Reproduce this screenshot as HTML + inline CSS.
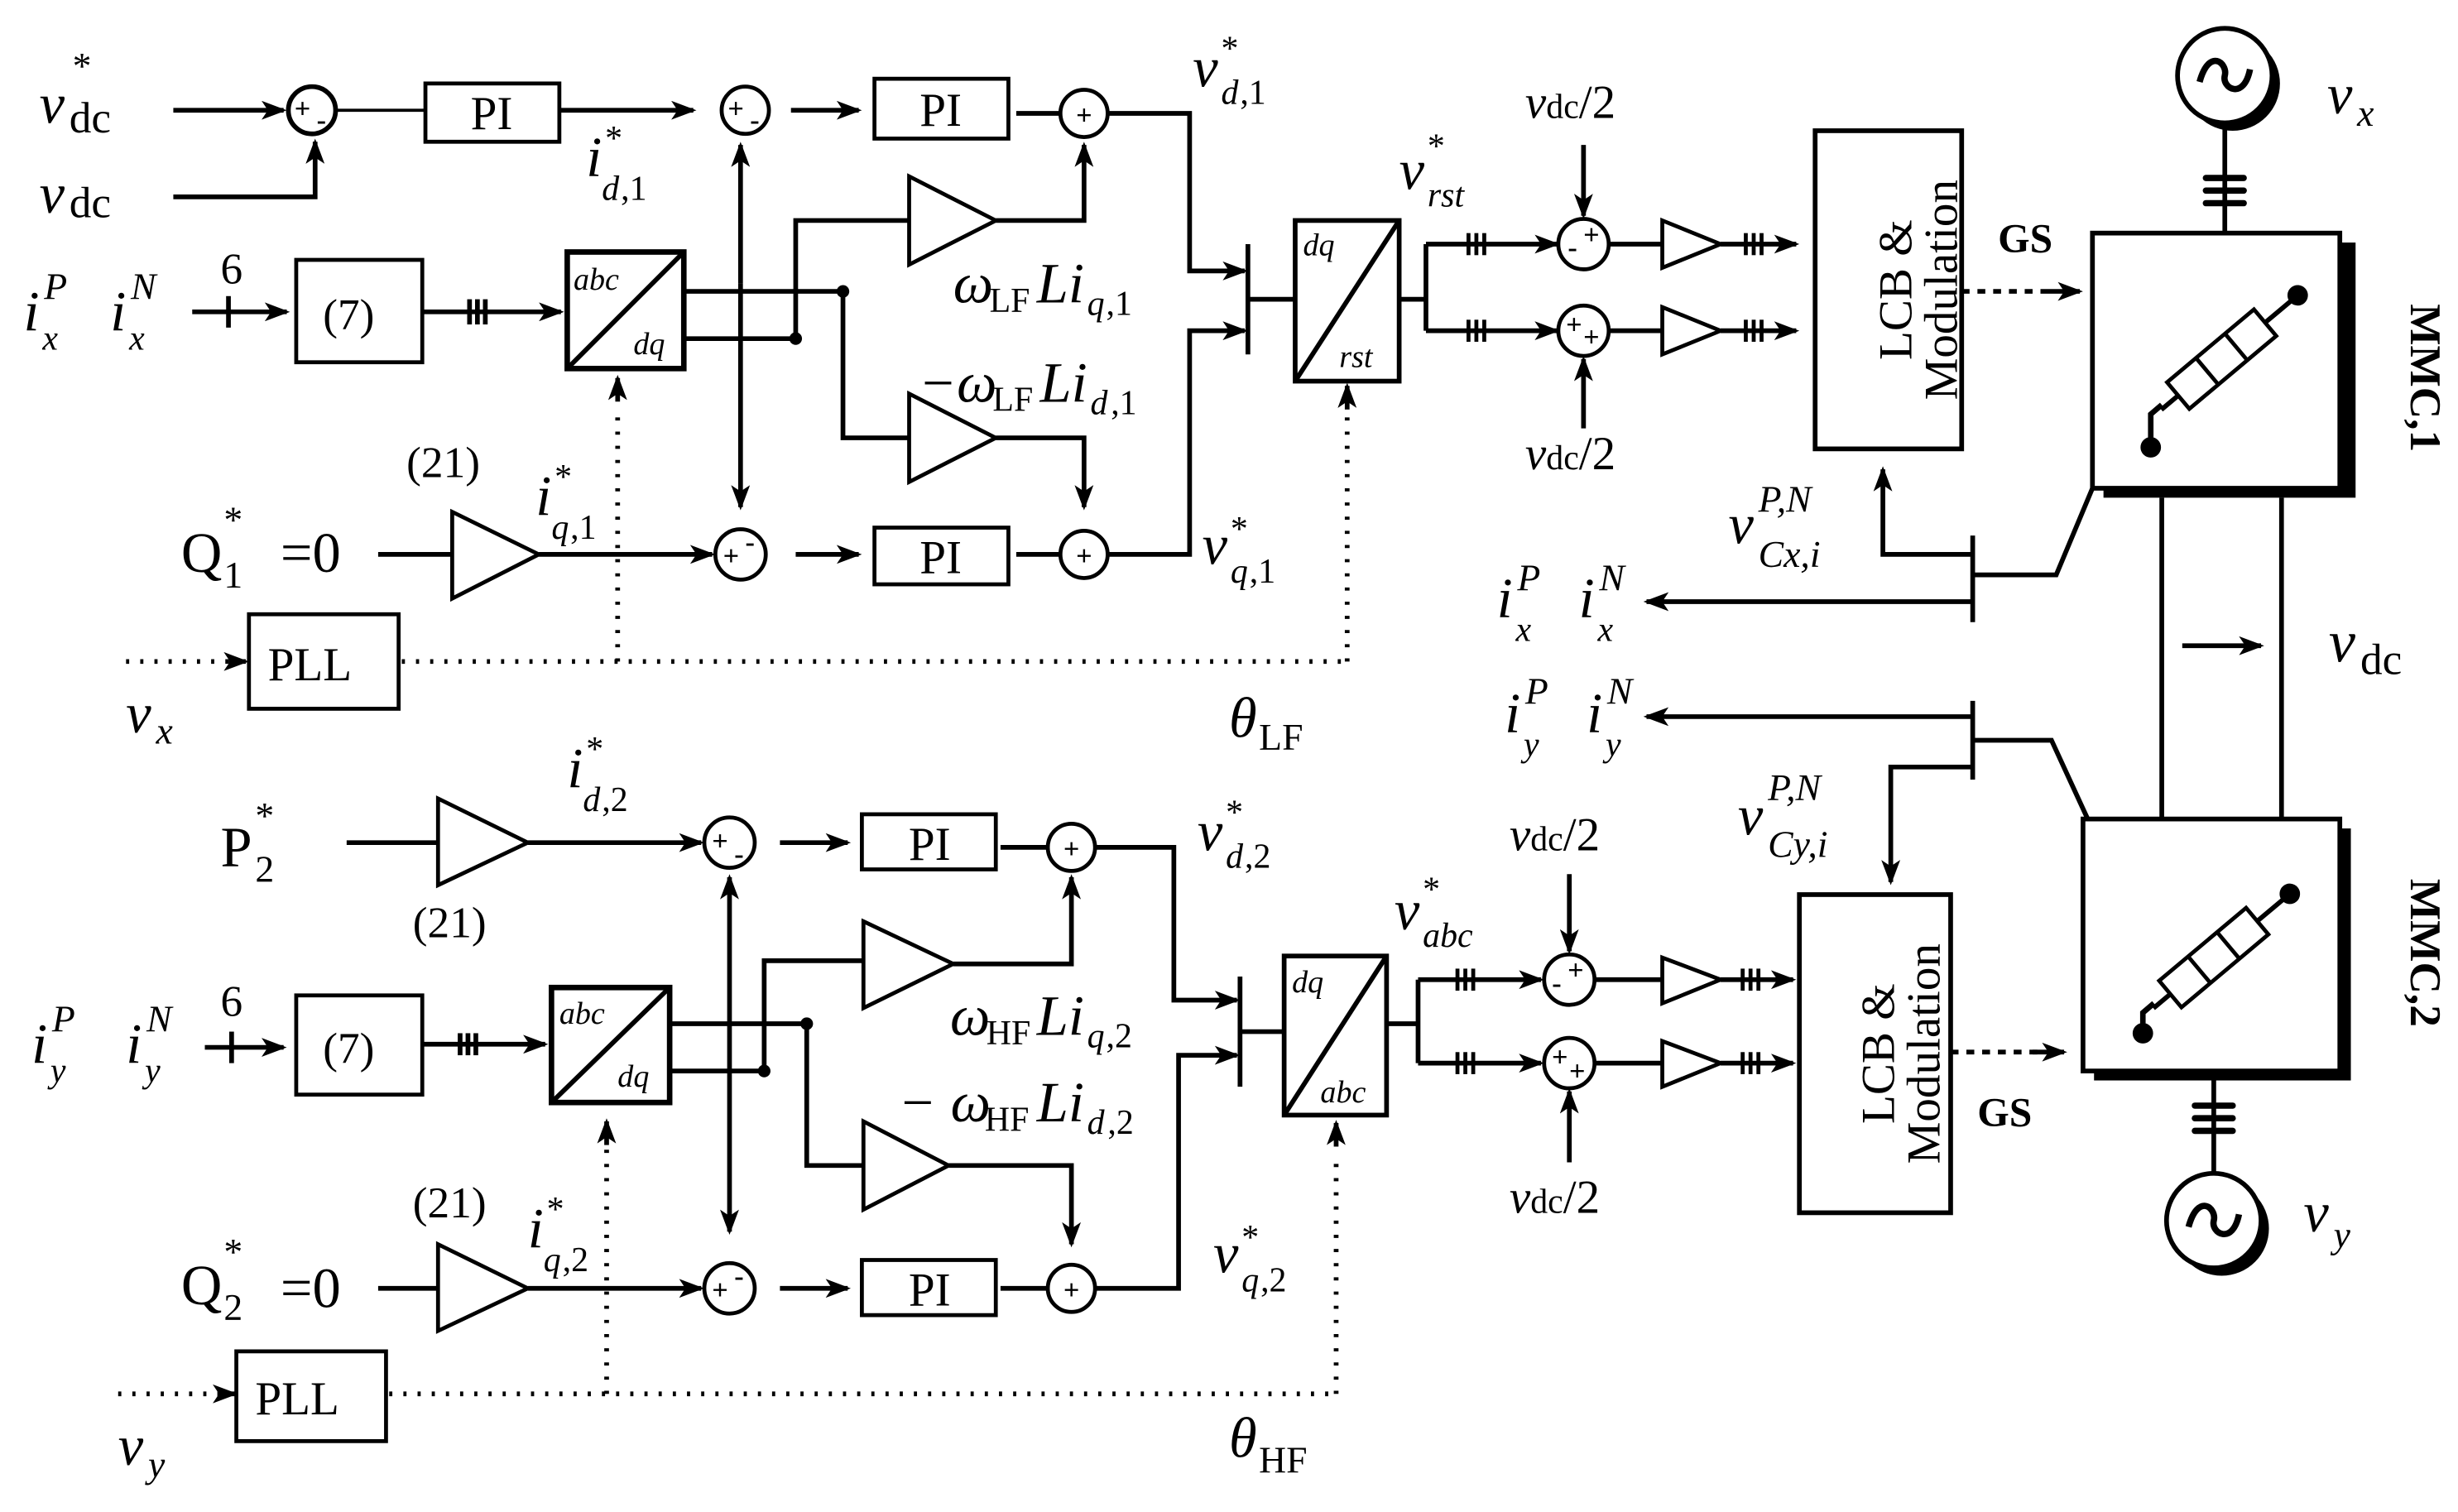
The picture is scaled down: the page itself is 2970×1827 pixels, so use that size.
<!DOCTYPE html>
<html><head><meta charset="utf-8"><style>
html,body{margin:0;padding:0;background:#fff}
svg{display:block}
text{font-family:"Liberation Serif",serif;fill:#000}
.i{font-style:italic}
</style></head><body>
<svg width="2970" height="1827" viewBox="0 0 1560 960" preserveAspectRatio="none" xmlns="http://www.w3.org/2000/svg">
<defs>
<marker id="a" markerWidth="16" markerHeight="12" refX="14" refY="6" orient="auto" markerUnits="userSpaceOnUse"><path d="M0,0 L16,6 L0,12 L4,6 z" fill="#000"/></marker>
</defs>
<g fill="none" stroke="#000" stroke-width="3">
<line x1="110" y1="70" x2="180" y2="70" marker-end="url(#a)"/>
<circle cx="198" cy="70" r="15"/>
<polyline points="110,125 200,125 200,90" marker-end="url(#a)"/>
<line x1="213" y1="70" x2="270" y2="70" stroke-width="2"/>
<rect x="270" y="53" width="85" height="37" stroke-width="2.5"/>
<line x1="355" y1="70" x2="440" y2="70" marker-end="url(#a)"/>
<circle cx="473" cy="70" r="15" stroke-width="2.5"/>
<line x1="502" y1="70" x2="545" y2="70" marker-end="url(#a)"/>
<rect x="555" y="50" width="85" height="38" stroke-width="2.5"/>
<line x1="645" y1="72" x2="673" y2="72"/>
<circle cx="688" cy="72" r="15" stroke-width="2.5"/>
<polyline points="703,72 755,72 755,172 790,172" marker-end="url(#a)"/>
<line x1="470" y1="180" x2="470" y2="92" marker-end="url(#a)"/>
<line x1="470" y1="180" x2="470" y2="322" marker-end="url(#a)"/>
<line x1="122" y1="198" x2="182" y2="198" marker-end="url(#a)"/>
<line x1="145" y1="188" x2="145" y2="208"/>
<rect x="188" y="165" width="80" height="65" stroke-width="2.5"/>
<line x1="268" y1="198" x2="356" y2="198" marker-end="url(#a)"/>
<line x1="298" y1="190" x2="298" y2="206"/><line x1="303" y1="190" x2="303" y2="206"/><line x1="308" y1="190" x2="308" y2="206"/>
<rect x="360" y="160" width="74" height="74" stroke-width="3.5"/>
<line x1="360" y1="234" x2="434" y2="160" stroke-width="3"/>
<line x1="434" y1="185" x2="535" y2="185"/>
<line x1="434" y1="215" x2="505" y2="215"/>
<polyline points="505,215 505,140 577,140"/>
<polygon points="577,112 632,140 577,168" stroke-width="2.5"/>
<polyline points="632,140 688,140 688,92" marker-end="url(#a)"/>
<polyline points="535,185 535,278 577,278"/>
<polygon points="577,250 632,278 577,306" stroke-width="2.5"/>
<polyline points="632,278 688,278 688,322" marker-end="url(#a)"/>
<line x1="240" y1="352" x2="287" y2="352"/>
<polygon points="287,325 342,352 287,380" stroke-width="2.5"/>
<line x1="342" y1="352" x2="452" y2="352" marker-end="url(#a)"/>
<circle cx="470" cy="352" r="16" stroke-width="2.5"/>
<line x1="505" y1="352" x2="545" y2="352" marker-end="url(#a)"/>
<rect x="555" y="335" width="85" height="36" stroke-width="2.5"/>
<line x1="645" y1="352" x2="673" y2="352"/>
<circle cx="688" cy="352" r="15" stroke-width="2.5"/>
<polyline points="703,352 755,352 755,210 790,210" marker-end="url(#a)"/>
<rect x="158" y="390" width="95" height="60" stroke-width="2.5"/>
<g stroke-dasharray="2,7" stroke-width="3">
<line x1="80" y1="420" x2="150" y2="420"/>
<line x1="255" y1="420" x2="855" y2="420"/>
<line x1="392" y1="420" x2="392" y2="258"/>
<line x1="855" y1="420" x2="855" y2="262"/>
</g>
<line x1="145" y1="420" x2="156" y2="420" marker-end="url(#a)"/>
<line x1="392" y1="255" x2="392" y2="240" marker-end="url(#a)"/>
<line x1="855" y1="260" x2="855" y2="245" marker-end="url(#a)"/>
<line x1="792" y1="155" x2="792" y2="225"/>
<line x1="792" y1="190" x2="822" y2="190"/>
<rect x="822" y="140" width="66" height="102" stroke-width="3"/>
<line x1="822" y1="242" x2="888" y2="140"/>
<line x1="888" y1="190" x2="905" y2="190"/>
<line x1="905" y1="155" x2="905" y2="210"/>
<line x1="905" y1="155" x2="988" y2="155" marker-end="url(#a)"/>
<line x1="905" y1="210" x2="988" y2="210" marker-end="url(#a)"/>
<g stroke-width="2.5"><line x1="932" y1="148" x2="932" y2="162"/><line x1="937" y1="148" x2="937" y2="162"/><line x1="942" y1="148" x2="942" y2="162"/>
<line x1="932" y1="203" x2="932" y2="217"/><line x1="937" y1="203" x2="937" y2="217"/><line x1="942" y1="203" x2="942" y2="217"/></g>
<circle cx="1005" cy="155" r="16" stroke-width="2.5"/>
<circle cx="1005" cy="210" r="16" stroke-width="2.5"/>
<line x1="1005" y1="92" x2="1005" y2="137" marker-end="url(#a)"/>
<line x1="1005" y1="272" x2="1005" y2="228" marker-end="url(#a)"/>
<line x1="1021" y1="155" x2="1055" y2="155"/>
<line x1="1021" y1="210" x2="1055" y2="210"/>
<polygon points="1055,140 1092,155 1055,170" stroke-width="2.5"/>
<polygon points="1055,195 1092,210 1055,225" stroke-width="2.5"/>
<line x1="1092" y1="155" x2="1140" y2="155" marker-end="url(#a)"/>
<line x1="1092" y1="210" x2="1140" y2="210" marker-end="url(#a)"/>
<g stroke-width="2.5"><line x1="1108" y1="148" x2="1108" y2="162"/><line x1="1113" y1="148" x2="1113" y2="162"/><line x1="1118" y1="148" x2="1118" y2="162"/>
<line x1="1108" y1="203" x2="1108" y2="217"/><line x1="1113" y1="203" x2="1113" y2="217"/><line x1="1118" y1="203" x2="1118" y2="217"/></g>
<rect x="1152" y="83" width="93" height="202" stroke-width="3"/>
<line x1="1245" y1="185" x2="1305" y2="185" stroke-dasharray="5,5"/>
<line x1="1300" y1="185" x2="1320" y2="185" marker-end="url(#a)"/>
<rect x="1335" y="154" width="160" height="162" fill="#000" stroke="none"/>
<rect x="1328" y="148" width="157" height="162" fill="#fff" stroke-width="3"/>
<circle cx="1417" cy="53" r="30" fill="#000" stroke="none"/>
<circle cx="1412" cy="48" r="30" fill="#fff" stroke-width="3"/>
<path d="M1396,52 C1402,30 1414,40 1412,48 C1410,56 1424,64 1428,44" stroke-width="4"/>
<line x1="1412" y1="78" x2="1412" y2="148"/>
<g stroke-width="4" stroke-linecap="round"><line x1="1400" y1="113" x2="1424" y2="113"/><line x1="1400" y1="121" x2="1424" y2="121"/><line x1="1400" y1="129" x2="1424" y2="129"/></g>
<g transform="translate(1410,228) rotate(-40)">
<rect x="-36" y="-11" width="72" height="22" stroke-width="2.5"/>
<line x1="-12" y1="-11" x2="-12" y2="11" stroke-width="2.5"/><line x1="12" y1="-11" x2="12" y2="11" stroke-width="2.5"/>
<line x1="36" y1="0" x2="62" y2="0"/><line x1="-36" y1="0" x2="-50" y2="0"/>
<circle cx="63" cy="0" r="5" fill="#000"/>
</g>
<polyline points="1372,257 1365,263 1365,283" stroke-width="3.5"/>
<circle cx="1365" cy="284" r="5" fill="#000"/>
<line x1="1372" y1="316" x2="1372" y2="520"/>
<line x1="1448" y1="316" x2="1448" y2="520"/>
<line x1="1385" y1="410" x2="1435" y2="410" marker-end="url(#a)"/>
<polyline points="1328,310 1305,365 1252,365"/>
<line x1="1252" y1="340" x2="1252" y2="395"/>
<line x1="1252" y1="382" x2="1045" y2="382" marker-end="url(#a)"/>
<polyline points="1252,352 1195,352 1195,298" marker-end="url(#a)"/>
<polyline points="1325,520 1302,470 1252,470"/>
<line x1="1252" y1="445" x2="1252" y2="495"/>
<line x1="1252" y1="455" x2="1045" y2="455" marker-end="url(#a)"/>
<polyline points="1252,487 1200,487 1200,560" marker-end="url(#a)"/>
<rect x="1329" y="526" width="163" height="160" fill="#000" stroke="none"/>
<rect x="1322" y="520" width="163" height="160" fill="#fff" stroke-width="3"/>
<g transform="translate(1405,608) rotate(-40)">
<rect x="-36" y="-11" width="72" height="22" stroke-width="2.5"/>
<line x1="-12" y1="-11" x2="-12" y2="11" stroke-width="2.5"/><line x1="12" y1="-11" x2="12" y2="11" stroke-width="2.5"/>
<line x1="36" y1="0" x2="62" y2="0"/><line x1="-36" y1="0" x2="-50" y2="0"/>
<circle cx="63" cy="0" r="5" fill="#000"/>
</g>
<polyline points="1367,637 1360,643 1360,655" stroke-width="3.5"/>
<circle cx="1360" cy="656" r="5" fill="#000"/>
<line x1="1405" y1="680" x2="1405" y2="745"/>
<g stroke-width="4" stroke-linecap="round"><line x1="1393" y1="702" x2="1417" y2="702"/><line x1="1393" y1="710" x2="1417" y2="710"/><line x1="1393" y1="718" x2="1417" y2="718"/></g>
<circle cx="1410" cy="780" r="30" fill="#000" stroke="none"/>
<circle cx="1405" cy="775" r="30" fill="#fff" stroke-width="3"/>
<path d="M1389,779 C1395,757 1407,767 1405,775 C1403,783 1417,791 1421,771" stroke-width="4"/>
<rect x="1142" y="568" width="96" height="202" stroke-width="3"/>
<line x1="1238" y1="668" x2="1295" y2="668" stroke-dasharray="5,5"/>
<line x1="1290" y1="668" x2="1310" y2="668" marker-end="url(#a)"/>

<line x1="220" y1="535" x2="278" y2="535"/>
<polygon points="278,507 335,535 278,562" stroke-width="2.5"/>
<line x1="335" y1="535" x2="445" y2="535" marker-end="url(#a)"/>
<circle cx="463" cy="535" r="16" stroke-width="2.5"/>
<line x1="495" y1="535" x2="538" y2="535" marker-end="url(#a)"/>
<rect x="547" y="517" width="85" height="35" stroke-width="2.5"/>
<line x1="635" y1="538" x2="665" y2="538"/>
<circle cx="680" cy="538" r="15" stroke-width="2.5"/>
<polyline points="695,538 745,538 745,635 785,635" marker-end="url(#a)"/>
<line x1="463" y1="650" x2="463" y2="557" marker-end="url(#a)"/>
<line x1="463" y1="650" x2="463" y2="782" marker-end="url(#a)"/>
<line x1="130" y1="665" x2="180" y2="665" marker-end="url(#a)"/>
<line x1="147" y1="655" x2="147" y2="675"/>
<rect x="188" y="632" width="80" height="63" stroke-width="2.5"/>
<line x1="268" y1="663" x2="346" y2="663" marker-end="url(#a)"/>
<line x1="292" y1="656" x2="292" y2="670"/><line x1="297" y1="656" x2="297" y2="670"/><line x1="302" y1="656" x2="302" y2="670"/>
<rect x="350" y="627" width="75" height="73" stroke-width="3.5"/>
<line x1="350" y1="700" x2="425" y2="627"/>
<line x1="425" y1="650" x2="512" y2="650"/>
<line x1="425" y1="680" x2="485" y2="680"/>
<polyline points="485,680 485,610 548,610"/>
<polygon points="548,585 605,612 548,640" stroke-width="2.5"/>
<polyline points="605,612 680,612 680,557" marker-end="url(#a)"/>
<polyline points="512,650 512,740 548,740"/>
<polygon points="548,712 602,740 548,768" stroke-width="2.5"/>
<polyline points="602,740 680,740 680,790" marker-end="url(#a)"/>
<line x1="240" y1="818" x2="278" y2="818"/>
<polygon points="278,790 335,818 278,845" stroke-width="2.5"/>
<line x1="335" y1="818" x2="445" y2="818" marker-end="url(#a)"/>
<circle cx="463" cy="818" r="16" stroke-width="2.5"/>
<line x1="495" y1="818" x2="538" y2="818" marker-end="url(#a)"/>
<rect x="547" y="800" width="85" height="35" stroke-width="2.5"/>
<line x1="635" y1="818" x2="665" y2="818"/>
<circle cx="680" cy="818" r="15" stroke-width="2.5"/>
<polyline points="695,818 748,818 748,670 785,670" marker-end="url(#a)"/>
<rect x="150" y="858" width="95" height="57" stroke-width="2.5"/>
<g stroke-dasharray="2,7" stroke-width="3">
<line x1="75" y1="885" x2="142" y2="885"/>
<line x1="247" y1="885" x2="848" y2="885"/>
<line x1="385" y1="885" x2="385" y2="730"/>
<line x1="848" y1="885" x2="848" y2="732"/>
</g>
<line x1="138" y1="885" x2="149" y2="885" marker-end="url(#a)"/>
<line x1="385" y1="727" x2="385" y2="712" marker-end="url(#a)"/>
<line x1="848" y1="728" x2="848" y2="713" marker-end="url(#a)"/>
<line x1="787" y1="620" x2="787" y2="690"/>
<line x1="787" y1="655" x2="815" y2="655"/>
<rect x="815" y="607" width="65" height="101" stroke-width="3"/>
<line x1="815" y1="708" x2="880" y2="607"/>
<line x1="880" y1="650" x2="900" y2="650"/>
<line x1="900" y1="622" x2="900" y2="675"/>
<line x1="900" y1="622" x2="978" y2="622" marker-end="url(#a)"/>
<line x1="900" y1="675" x2="978" y2="675" marker-end="url(#a)"/>
<g stroke-width="2.5"><line x1="925" y1="615" x2="925" y2="629"/><line x1="930" y1="615" x2="930" y2="629"/><line x1="935" y1="615" x2="935" y2="629"/>
<line x1="925" y1="668" x2="925" y2="682"/><line x1="930" y1="668" x2="930" y2="682"/><line x1="935" y1="668" x2="935" y2="682"/></g>
<circle cx="996" cy="622" r="16" stroke-width="2.5"/>
<circle cx="996" cy="675" r="16" stroke-width="2.5"/>
<line x1="996" y1="555" x2="996" y2="604" marker-end="url(#a)"/>
<line x1="996" y1="738" x2="996" y2="693" marker-end="url(#a)"/>
<line x1="1012" y1="622" x2="1055" y2="622"/>
<line x1="1012" y1="675" x2="1055" y2="675"/>
<polygon points="1055,608 1092,622 1055,637" stroke-width="2.5"/>
<polygon points="1055,661 1092,675 1055,690" stroke-width="2.5"/>
<line x1="1092" y1="622" x2="1138" y2="622" marker-end="url(#a)"/>
<line x1="1092" y1="675" x2="1138" y2="675" marker-end="url(#a)"/>
<g stroke-width="2.5"><line x1="1106" y1="615" x2="1106" y2="629"/><line x1="1111" y1="615" x2="1111" y2="629"/><line x1="1116" y1="615" x2="1116" y2="629"/>
<line x1="1106" y1="668" x2="1106" y2="682"/><line x1="1111" y1="668" x2="1111" y2="682"/><line x1="1116" y1="668" x2="1116" y2="682"/></g>
</g>
<g fill="#000">
<circle cx="535" cy="185" r="4"/><circle cx="505" cy="215" r="4"/>
<circle cx="512" cy="650" r="4"/><circle cx="485" cy="680" r="4"/>
</g>
<g font-family="Liberation Sans" font-weight="bold" font-size="18" text-anchor="middle">
<text x="192" y="75">+</text><text x="204" y="82">-</text>
<text x="467" y="75">+</text><text x="479" y="82">-</text>
<text x="688" y="79">+</text>
<text x="464" y="359">+</text><text x="476" y="350">-</text>
<text x="688" y="359">+</text>
<text x="1010" y="155">+</text><text x="998" y="163">-</text>
<text x="999" y="212">+</text><text x="1010" y="220">+</text>
<text x="457" y="540">+</text><text x="469" y="548">-</text>
<text x="680" y="545">+</text>
<text x="457" y="825">+</text><text x="469" y="816">-</text>
<text x="680" y="825">+</text>
<text x="1000" y="622">+</text><text x="988" y="630">-</text>
<text x="990" y="677">+</text><text x="1001" y="686">+</text>
</g>
<g font-size="36">
<text x="25" y="78" class="i">v</text><text x="44" y="84" font-size="28">dc</text><text x="46" y="50" font-size="24">*</text>
<text x="25" y="135" class="i">v</text><text x="44" y="138" font-size="28">dc</text>
<g font-size="30" text-anchor="middle"><text x="312" y="82">PI</text><text x="597" y="80">PI</text><text x="597" y="364">PI</text><text x="590" y="546">PI</text><text x="590" y="829">PI</text></g>
<text x="372" y="112" class="i">i</text><text x="384" y="95" font-size="22">*</text><text x="382" y="127" font-size="22" class="i">d</text><text x="394" y="127" font-size="22">,1</text>
<text x="757" y="55" class="i">v</text><text x="775" y="38" font-size="22">*</text><text x="775" y="66" font-size="22" class="i">d</text><text x="787" y="66" font-size="22">,1</text>
<text x="15" y="210" class="i">i</text><text x="28" y="190" font-size="24" class="i">P</text><text x="27" y="222" font-size="22" class="i">x</text>
<text x="70" y="210" class="i">i</text><text x="83" y="190" font-size="24" class="i">N</text><text x="82" y="222" font-size="22" class="i">x</text>
<text x="140" y="180" font-size="28">6</text>
<text x="205" y="209" font-size="28">(7)</text>
<text x="364" y="184" font-size="20" class="i">abc</text><text x="402" y="225" font-size="20" class="i">dq</text>
<text x="605" y="192" class="i">ω</text><text x="628" y="198" font-size="22">LF</text><text x="658" y="192" class="i">Li</text><text x="690" y="200" font-size="22" class="i">q</text><text x="702" y="200" font-size="22">,1</text>
<text x="583" y="255" class="i">−ω</text><text x="630" y="261" font-size="22">LF</text><text x="660" y="255" class="i">Li</text><text x="692" y="263" font-size="22" class="i">d</text><text x="705" y="263" font-size="22">,1</text>
<text x="258" y="303" font-size="28">(21)</text>
<text x="340" y="327" class="i">i</text><text x="352" y="310" font-size="22">*</text><text x="350" y="342" font-size="22" class="i">q</text><text x="362" y="342" font-size="22">,1</text>
<text x="115" y="363">Q</text><text x="142" y="338" font-size="24">*</text><text x="142" y="373" font-size="24">1</text><text x="178" y="363">=0</text>
<text x="763" y="358" class="i">v</text><text x="781" y="343" font-size="22">*</text><text x="781" y="370" font-size="22" class="i">q</text><text x="793" y="370" font-size="22">,1</text>
<text x="170" y="432" font-size="30">PLL</text>
<text x="80" y="465" class="i">v</text><text x="99" y="472" font-size="24" class="i">x</text>
<text x="780" y="468" class="i">θ</text><text x="799" y="476" font-size="24">LF</text>
<text x="827" y="162" font-size="20" class="i">dq</text><text x="850" y="233" font-size="20" class="i">rst</text>
<text x="888" y="120" class="i">v</text><text x="906" y="100" font-size="22">*</text><text x="906" y="131" font-size="22" class="i">rst</text>
<text x="968" y="75" font-size="30"><tspan font-style="italic">v</tspan><tspan font-size="22">dc</tspan>/2</text>
<text x="968" y="298" font-size="30"><tspan font-style="italic">v</tspan><tspan font-size="22">dc</tspan>/2</text>
<text transform="translate(1213,184) rotate(-90)" text-anchor="middle" font-size="30">LCB &amp;</text>
<text transform="translate(1242,184) rotate(-90)" text-anchor="middle" font-size="30">Modulation</text>
<text x="1268" y="160" font-size="26" font-weight="bold">GS</text>
<text transform="translate(1530,240) rotate(90)" text-anchor="middle" font-size="28" font-weight="bold">MMC,1</text>
<text x="1477" y="72" class="i">v</text><text x="1496" y="80" font-size="24" class="i">x</text>
<text x="1097" y="345" class="i">v</text><text x="1116" y="325" font-size="24" class="i">P,N</text><text x="1116" y="360" font-size="24" class="i">Cx,i</text>
<text x="950" y="392" class="i">i</text><text x="963" y="375" font-size="24" class="i">P</text><text x="962" y="407" font-size="22" class="i">x</text>
<text x="1002" y="392" class="i">i</text><text x="1015" y="375" font-size="24" class="i">N</text><text x="1014" y="407" font-size="22" class="i">x</text>
<text x="1478" y="420" class="i" font-size="38">v</text><text x="1498" y="428" font-size="28">dc</text>
<text x="955" y="465" class="i">i</text><text x="968" y="447" font-size="24" class="i">P</text><text x="967" y="480" font-size="22" class="i">y</text>
<text x="1007" y="465" class="i">i</text><text x="1020" y="447" font-size="24" class="i">N</text><text x="1019" y="480" font-size="22" class="i">y</text>
<text x="1103" y="530" class="i">v</text><text x="1122" y="508" font-size="24" class="i">P,N</text><text x="1122" y="544" font-size="24" class="i">Cy,i</text>
<text transform="translate(1530,605) rotate(90)" text-anchor="middle" font-size="28" font-weight="bold">MMC,2</text>
<text transform="translate(1202,669) rotate(-90)" text-anchor="middle" font-size="30">LCB &amp;</text>
<text transform="translate(1231,669) rotate(-90)" text-anchor="middle" font-size="30">Modulation</text>
<text x="1255" y="715" font-size="26" font-weight="bold">GS</text>
<text x="1462" y="782" class="i">v</text><text x="1481" y="792" font-size="24" class="i">y</text>
<text x="140" y="550">P</text><text x="162" y="526" font-size="24">*</text><text x="162" y="560" font-size="24">2</text>
<text x="360" y="500" class="i">i</text><text x="372" y="483" font-size="22">*</text><text x="370" y="515" font-size="22" class="i">d</text><text x="382" y="515" font-size="22">,2</text>
<text x="262" y="595" font-size="28">(21)</text>
<text x="760" y="540" class="i">v</text><text x="778" y="523" font-size="22">*</text><text x="778" y="551" font-size="22" class="i">d</text><text x="790" y="551" font-size="22">,2</text>
<text x="20" y="675" class="i">i</text><text x="33" y="655" font-size="24" class="i">P</text><text x="32" y="687" font-size="22" class="i">y</text>
<text x="80" y="675" class="i">i</text><text x="93" y="655" font-size="24" class="i">N</text><text x="92" y="687" font-size="22" class="i">y</text>
<text x="140" y="645" font-size="28">6</text>
<text x="205" y="675" font-size="28">(7)</text>
<text x="355" y="650" font-size="20" class="i">abc</text><text x="392" y="690" font-size="20" class="i">dq</text>
<text x="603" y="657" class="i">ω</text><text x="626" y="663" font-size="22">HF</text><text x="658" y="657" class="i">Li</text><text x="690" y="665" font-size="22" class="i">q</text><text x="702" y="665" font-size="22">,2</text>
<text x="570" y="712" class="i">− ω</text><text x="625" y="718" font-size="22">HF</text><text x="658" y="712" class="i">Li</text><text x="690" y="720" font-size="22" class="i">d</text><text x="703" y="720" font-size="22">,2</text>
<text x="262" y="773" font-size="28">(21)</text>
<text x="335" y="792" class="i">i</text><text x="347" y="775" font-size="22">*</text><text x="345" y="807" font-size="22" class="i">q</text><text x="357" y="807" font-size="22">,2</text>
<text x="115" y="828">Q</text><text x="142" y="803" font-size="24">*</text><text x="142" y="838" font-size="24">2</text><text x="178" y="830">=0</text>
<text x="770" y="808" class="i">v</text><text x="788" y="793" font-size="22">*</text><text x="788" y="820" font-size="22" class="i">q</text><text x="800" y="820" font-size="22">,2</text>
<text x="162" y="898" font-size="30">PLL</text>
<text x="75" y="930" class="i">v</text><text x="94" y="938" font-size="24" class="i">y</text>
<text x="780" y="925" class="i">θ</text><text x="799" y="935" font-size="24">HF</text>
<text x="820" y="630" font-size="20" class="i">dq</text><text x="838" y="700" font-size="20" class="i">abc</text>
<text x="885" y="590" class="i">v</text><text x="903" y="572" font-size="22">*</text><text x="903" y="601" font-size="22" class="i">abc</text>
<text x="958" y="540" font-size="30"><tspan font-style="italic">v</tspan><tspan font-size="22">dc</tspan>/2</text>
<text x="958" y="770" font-size="30"><tspan font-style="italic">v</tspan><tspan font-size="22">dc</tspan>/2</text>
</g>
</svg>
</body></html>
